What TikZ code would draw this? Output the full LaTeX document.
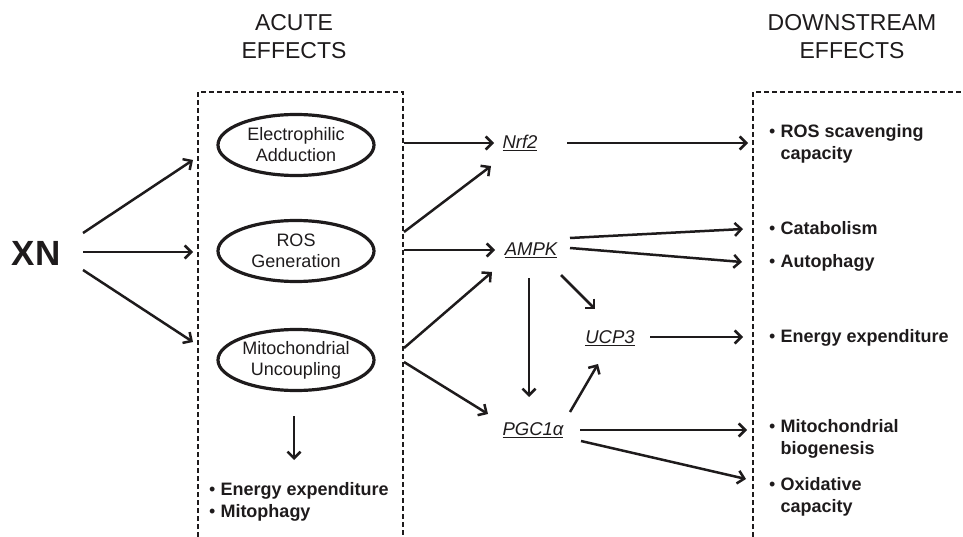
\documentclass[tikz,border=0pt]{standalone}
\usepackage{fontspec}
\setmainfont{Liberation Sans}
\usetikzlibrary{arrows.meta,shapes.geometric}
\definecolor{ink}{RGB}{30,27,28}
\tikzset{
  arr/.style={draw=ink, line width=2.5pt, -{Straight Barb[length=6.5pt,width=13pt,line width=2.5pt]}},
  bubble/.style={ellipse, draw=ink, line width=3.2pt, minimum width=156pt, minimum height=61pt, inner sep=0pt, align=center, font=\fontsize{18}{21}\selectfont, text=ink},
  gene/.style={font=\fontsize{18.5}{20}\selectfont\itshape, text=ink, inner sep=0pt},
  head/.style={font=\fontsize{23}{28}\selectfont, text=ink, align=center, inner sep=0pt},
  effect/.style={anchor=west, align=left, inner sep=0pt, text=ink, font=\fontsize{18}{22.5}\selectfont\bfseries},
  dbox/.style={draw=ink, line width=2.4pt, dash pattern=on 5pt off 3pt}
}
\newcommand{\bul}{{\mdseries\textbullet}\ }
\newcommand{\bulsp}{\hphantom{{\mdseries\textbullet}\ }}
\begin{document}
\begin{tikzpicture}[x=1pt,y=-1pt]
\useasboundingbox (0,0) rectangle (963,537);
% headings
\node[head] (h1) at (294,37) {ACUTE\\EFFECTS};
\node[head] (h2) at (852,37) {DOWNSTREAM\\EFFECTS};
% dashed boxes
\draw[dbox] (198,545) -- (198,92) -- (403,92) -- (403,545);
\draw[dbox] (753,545) -- (753,92) -- (975,92);
% XN
\node[font=\fontsize{35}{35}\selectfont\bfseries, text=ink, inner sep=0pt] (xn) at (36,253) {XN};
% ellipses
\node[bubble] (e1) at (296,145) {Electrophilic\\Adduction};
\node[bubble] (e2) at (296,251) {ROS\\Generation};
\node[bubble] (e3) at (296,360) {Mitochondrial\\Uncoupling};
% acute bullets
\node[effect] (a1) at (209,502) {\bul Energy expenditure\\\bul Mitophagy};
% genes
\node[gene] (nrf) at (520,143) {\underline{Nrf2}};
\node[gene] (ampk) at (531,250) {\underline{AMPK}};
\node[gene] (ucp) at (610,338) {\underline{UCP3}};
\node[gene] (pgc) at (533,430) {\underline{PGC1α}};
% downstream bullets
\node[effect] (d1) at (769,144) {\bul ROS scavenging\\\bulsp capacity};
\node[effect] (d2) at (769,228) {\bul Catabolism};
\node[effect] (d3) at (769,263) {\bul Autophagy};
\node[effect] (d4) at (769,338) {\bul Energy expenditure};
\node[effect] (d5) at (769,439) {\bul Mitochondrial\\\bulsp biogenesis};
\node[effect] (d6) at (769,497) {\bul Oxidative\\\bulsp capacity};
% coordinates
\coordinate (x1) at (83,233); \coordinate (x2) at (83,252); \coordinate (x3) at (83,270);
\coordinate (b1) at (193,160); \coordinate (b2) at (193,252); \coordinate (b3) at (193,342);
\coordinate (r1) at (404,143); \coordinate (r2) at (404,232); \coordinate (r3) at (404,250);
\coordinate (r4) at (404,348); \coordinate (r5) at (404,362);
\coordinate (nIn) at (494,143); \coordinate (nIn2) at (491,166);
\coordinate (aIn) at (495,250); \coordinate (aIn2) at (492,272);
\coordinate (pIn) at (488,414);
\coordinate (nOut) at (567,143); \coordinate (R1) at (748,143);
\coordinate (aOut1) at (570,238); \coordinate (R2) at (743,229);
\coordinate (aOut2) at (570,248); \coordinate (R3) at (742,262);
\coordinate (aDown) at (529,278); \coordinate (pTop) at (529,397);
\coordinate (aDiag) at (561,275); \coordinate (uTop) at (595,309);
\coordinate (uOut) at (650,337); \coordinate (R4) at (743,337);
\coordinate (pUp) at (570,412); \coordinate (uBot) at (598,364);
\coordinate (pOut1) at (580,430); \coordinate (R5) at (747,430);
\coordinate (pOut2) at (581,441); \coordinate (R6) at (746,479);
\coordinate (mDown) at (294,416); \coordinate (aTop) at (294,460);
% arrows
\draw[arr] (x1) -- (b1);
\draw[arr] (x2) -- (b2);
\draw[arr] (x3) -- (b3);
\draw[arr] (r1) -- (nIn);
\draw[arr] (r2) -- (nIn2);
\draw[arr] (r3) -- (aIn);
\draw[arr] (r4) -- (aIn2);
\draw[arr] (r5) -- (pIn);
\draw[arr] (nOut) -- (R1);
\draw[arr] (aOut1) -- (R2);
\draw[arr] (aOut2) -- (R3);
\draw[arr] (aDown) -- (pTop);
\draw[arr] (aDiag) -- (uTop);
\draw[arr] (uOut) -- (R4);
\draw[arr] (pUp) -- (uBot);
\draw[arr] (pOut1) -- (R5);
\draw[arr] (pOut2) -- (R6);
\draw[arr] (mDown) -- (aTop);
\end{tikzpicture}
\end{document}
